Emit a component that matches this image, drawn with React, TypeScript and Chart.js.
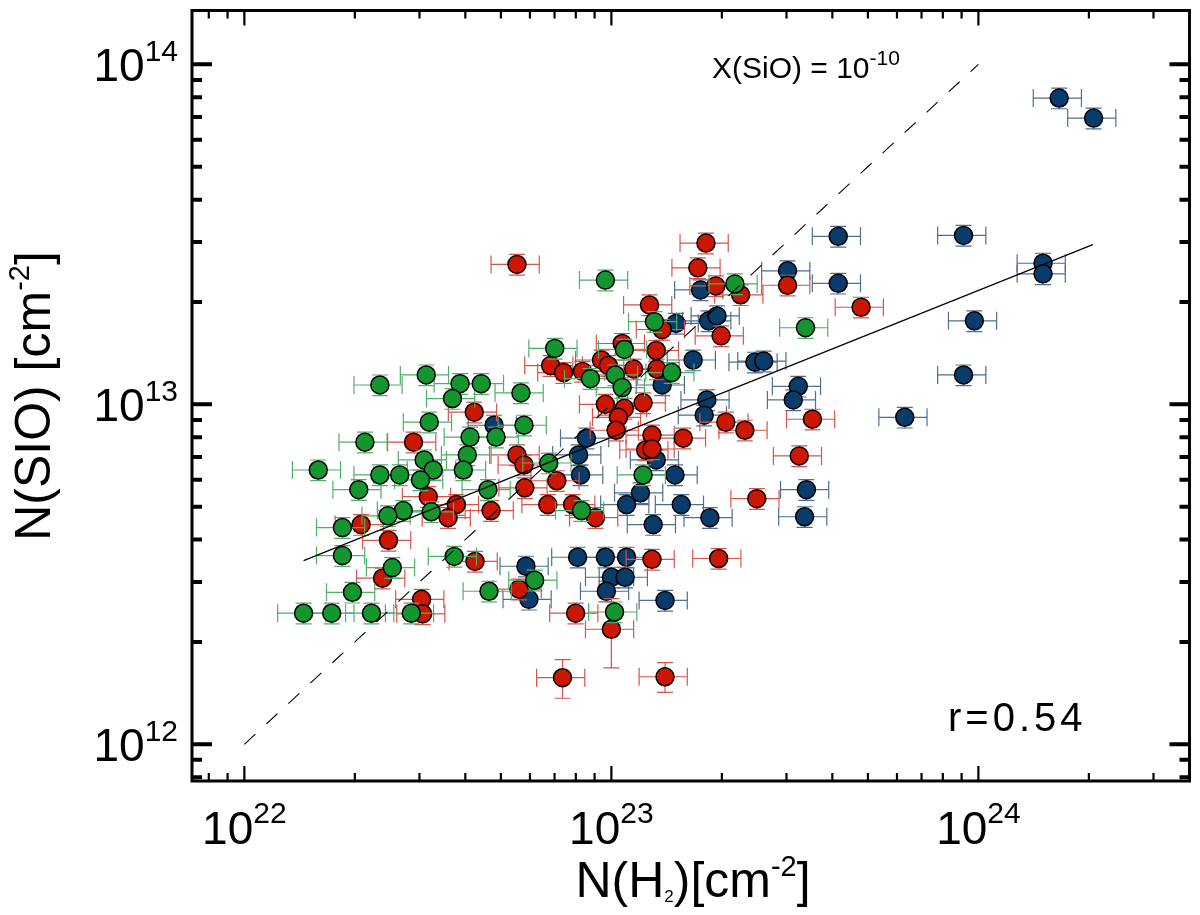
import React, { useEffect, useRef } from 'react';
import { Chart, registerables } from 'chart.js';

Chart.register(...registerables);

// [N(H2), N(SiO), optional relative y error]
type Pt = [number, number, number?];

const X_REL_ERR = 0.15;
const Y_REL_ERR = 0.07;

const greenPts: Pt[] = [
  [2.34e22, 1.14e13], [3.13e22, 1.22e13], [3.87e22, 1.15e13], [4.42e22, 1.15e13],
  [3.69e22, 1.04e13], [5.67e22, 1.08e13], [3.19e22, 8.86e12], [5.78e22, 8.68e12],
  [4.12e22, 8.01e12], [4.85e22, 8.01e12], [2.13e22, 7.74e12], [4.05e22, 7.1e12],
  [3.09e22, 6.86e12], [3.27e22, 6.41e12], [3.95e22, 6.41e12], [1.59e22, 6.41e12],
  [2.34e22, 6.2e12], [2.65e22, 6.2e12], [3.02e22, 5.99e12], [2.05e22, 5.61e12],
  [4.61e22, 5.61e12], [2.71e22, 4.87e12], [3.23e22, 4.83e12], [2.46e22, 4.7e12],
  [1.85e22, 4.34e12], [1.85e22, 3.59e12], [3.73e22, 3.57e12], [2.53e22, 3.31e12],
  [1.97e22, 2.8e12], [4.64e22, 2.82e12], [1.45e22, 2.43e12], [1.73e22, 2.43e12],
  [2.22e22, 2.43e12], [2.85e22, 2.43e12], [9.63e22, 2.32e13], [2.17e23, 2.26e13],
  [1.31e23, 1.75e13], [7.01e22, 1.46e13], [1.085e23, 1.45e13], [8.77e22, 1.19e13],
  [1.025e23, 1.22e13], [1.07e23, 1.12e13], [1.46e23, 1.24e13], [6.75e22, 6.72e12],
  [1.22e23, 6.2e12], [8.29e22, 4.87e12], [3.38e23, 1.68e13], [6.18e22, 3.04e12],
  [1.02e23, 2.45e12],
];

const redPts: Pt[] = [
  [4.23e22, 9.48e12], [2.89e22, 7.74e12], [5.53e22, 7.1e12], [5.78e22, 6.63e12],
  [5.81e22, 5.68e12], [3.17e22, 5.35e12], [3.78e22, 5.07e12], [3.59e22, 4.64e12],
  [4.7e22, 4.87e12], [2.08e22, 4.43e12], [2.47e22, 3.98e12], [4.25e22, 3.45e12],
  [2.38e22, 3.08e12], [5.6e22, 2.86e12], [3.04e22, 2.67e12], [3.06e22, 2.42e12],
  [5.53e22, 2.58e13], [1.81e23, 2.98e13], [1.72e23, 2.52e13], [1.925e23, 2.23e13],
  [2.25e23, 2.1e13], [1.27e23, 1.96e13], [1.375e23, 1.66e13], [1.99e23, 1.59e13],
  [1.07e23, 1.51e13], [1.325e23, 1.44e13], [6.83e22, 1.3e13], [7.41e22, 1.24e13],
  [8.34e22, 1.25e13], [9.4e22, 1.35e13], [9.81e22, 1.3e13], [1.15e23, 1.27e13],
  [1.33e23, 1.27e13], [9.63e22, 1.0e13], [1.085e23, 9.73e12], [1.045e23, 9.16e12],
  [1.22e23, 1.01e13], [2.05e23, 8.86e12], [1.03e23, 8.39e12], [1.29e23, 8.12e12],
  [1.57e23, 7.95e12], [1.24e23, 7.34e12], [1.29e23, 7.39e12], [7.1e22, 5.96e12],
  [6.71e22, 5.07e12], [7.84e22, 5.07e12], [9.05e22, 4.64e12], [2.31e23, 8.39e12],
  [3.02e23, 2.24e13], [4.79e23, 1.93e13], [3.53e23, 9.04e12], [3.25e23, 7.05e12],
  [2.49e23, 5.28e12], [1.96e23, 3.52e12], [1.29e23, 3.5e12], [7.99e22, 2.43e12],
  [1.0e23, 2.18e12, 0.23], [7.36e22, 1.57e12, 0.13], [1.4e23, 1.58e12, 0.1],
];

const bluePts: Pt[] = [
  [4.79e22, 8.68e12], [5.85e22, 3.34e12], [5.96e22, 2.67e12], [1.75e23, 2.17e13],
  [1.5e23, 1.73e13], [1.84e23, 1.76e13], [1.94e23, 1.82e13], [1.67e23, 1.35e13],
  [1.375e23, 1.14e13], [1.82e23, 1.03e13], [1.79e23, 9.29e12], [8.55e22, 7.95e12],
  [8.14e22, 7.1e12], [1.325e23, 6.86e12], [8.24e22, 6.2e12], [1.49e23, 6.2e12],
  [1.2e23, 5.49e12], [1.1e23, 5.07e12], [1.55e23, 5.07e12], [1.3e23, 4.43e12],
  [1.855e23, 4.64e12], [8.09e22, 3.55e12], [9.63e22, 3.55e12], [1.1e23, 3.55e12],
  [1.0e23, 3.1e12], [1.09e23, 3.1e12], [9.69e22, 2.82e12], [1.4e23, 2.65e12],
  [4.15e23, 3.12e13], [3.02e23, 2.47e13], [4.15e23, 2.27e13], [2.46e23, 1.33e13],
  [2.6e23, 1.34e13], [3.23e23, 1.13e13], [3.13e23, 1.03e13], [6.3e23, 9.16e12],
  [3.4e23, 5.61e12], [3.36e23, 4.67e12], [1.66e24, 7.96e13], [2.06e24, 6.95e13],
  [9.11e23, 3.14e13], [1.5e24, 2.6e13], [1.5e24, 2.42e13], [9.75e23, 1.76e13],
  [9.11e23, 1.22e13],
];

// fitted relation and X(SiO) = 1e-10 reference line
const fitNH2 = [1.45e22, 2.05e24];
const fitNSiO = [3.47e12, 2.95e13];
const xsioNH2 = [1e22, 1e24];
const xsioNSiO = [1e12, 1e14];

const xMajor = [22, 23, 24];
const yMajor = [12, 13, 14];

const X_MIN = 7.2e21;
const X_MAX = 3.76e24;
const Y_MIN = 7.8e11;
const Y_MAX = 1.44e14;

const FONT = '"Liberation Sans", Arial, Helvetica, sans-serif';

type Part = { t: string; size: number; rise?: number };

const drawRich = (ctx: CanvasRenderingContext2D, parts: Part[], x: number, y: number, align: 'left' | 'center' | 'right') => {
  ctx.textAlign = 'left';
  ctx.textBaseline = 'alphabetic';
  const widths = parts.map(p => {
    ctx.font = `${p.size}px ${FONT}`;
    return ctx.measureText(p.t).width;
  });
  const total = widths.reduce((a, b) => a + b, 0);
  let cx = align === 'center' ? x - total / 2 : align === 'right' ? x - total : x;
  parts.forEach((p, i) => {
    ctx.font = `${p.size}px ${FONT}`;
    ctx.fillText(p.t, cx, y - (p.rise || 0));
    cx += widths[i];
  });
};

const minorTicks = (lo: number, hi: number) => {
  const out: number[] = [];
  for (let e = Math.floor(Math.log10(lo)); e <= Math.ceil(Math.log10(hi)); e++) {
    for (let k = 2; k <= 9; k++) {
      const v = k * Math.pow(10, e);
      if (v > lo && v < hi) out.push(v);
    }
  }
  return out;
};

const errSets: Record<string, { pts: Pt[]; color: string }> = {
  green: { pts: greenPts, color: '#4fae68' },
  red: { pts: redPts, color: '#d9534a' },
  blue: { pts: bluePts, color: '#4d6e8e' },
};

const errBarPlugin = {
  id: 'errBars',
  beforeDatasetDraw(chart: any, args: any) {
    const ds = chart.data.datasets[args.index];
    const set = errSets[ds.label];
    if (!set) return;
    const { ctx, scales: { x, y } } = chart;
    ctx.save();
    ctx.beginPath();
    ctx.rect(chart.chartArea.left, chart.chartArea.top, chart.chartArea.right - chart.chartArea.left, chart.chartArea.bottom - chart.chartArea.top);
    ctx.clip();
    ctx.strokeStyle = set.color;
    ctx.lineWidth = 1.2;
    set.pts.forEach(([nx, ny, ey]) => {
      const px = x.getPixelForValue(nx);
      const py = y.getPixelForValue(ny);
      const x0 = x.getPixelForValue(nx * (1 - X_REL_ERR));
      const x1 = x.getPixelForValue(nx * (1 + X_REL_ERR));
      const r = ey ?? Y_REL_ERR;
      const y0 = y.getPixelForValue(ny * (1 + r));
      const y1 = y.getPixelForValue(ny * (1 - r));
      ctx.beginPath();
      ctx.moveTo(x0, py); ctx.lineTo(x1, py);
      ctx.moveTo(x0, py - 9); ctx.lineTo(x0, py + 9);
      ctx.moveTo(x1, py - 9); ctx.lineTo(x1, py + 9);
      ctx.moveTo(px, y0); ctx.lineTo(px, y1);
      ctx.moveTo(px - 8, y0); ctx.lineTo(px + 8, y0);
      ctx.moveTo(px - 8, y1); ctx.lineTo(px + 8, y1);
      ctx.stroke();
    });
    ctx.restore();
  },
};

const framePlugin = {
  id: 'frame',
  afterDraw(chart: any) {
    const { ctx, chartArea: a, scales: { x, y } } = chart;
    ctx.save();
    ctx.strokeStyle = '#000';
    ctx.fillStyle = '#000';
    ctx.lineWidth = 3;
    ctx.strokeRect(a.left, a.top, a.right - a.left, a.bottom - a.top);

    // y ticks (left and right), thick
    ctx.lineWidth = 4;
    const yTick = (v: number, len: number) => {
      const py = y.getPixelForValue(v);
      ctx.beginPath();
      ctx.moveTo(a.left, py); ctx.lineTo(a.left + len, py);
      ctx.moveTo(a.right, py); ctx.lineTo(a.right - len, py);
      ctx.stroke();
    };
    yMajor.forEach(e => yTick(Math.pow(10, e), 20));
    minorTicks(Y_MIN, Y_MAX).forEach(v => yTick(v, 10));

    // x ticks (bottom and top), thin
    ctx.lineWidth = 2.2;
    const xTick = (v: number, len: number) => {
      const px = x.getPixelForValue(v);
      ctx.beginPath();
      ctx.moveTo(px, a.bottom); ctx.lineTo(px, a.bottom - len);
      ctx.moveTo(px, a.top); ctx.lineTo(px, a.top + len);
      ctx.stroke();
    };
    xMajor.forEach(e => xTick(Math.pow(10, e), 15));
    minorTicks(X_MIN, X_MAX).forEach(v => xTick(v, 8));

    // tick labels
    yMajor.forEach(e => {
      const py = y.getPixelForValue(Math.pow(10, e));
      drawRich(ctx, [{ t: '10', size: 46 }, { t: String(e), size: 30, rise: 20 }], a.left - 14, py + 16.5, 'right');
    });
    xMajor.forEach(e => {
      const px = x.getPixelForValue(Math.pow(10, e));
      drawRich(ctx, [{ t: '10', size: 46 }, { t: String(e), size: 30, rise: 21 }], px, 844, 'center');
    });

    // axis titles
    drawRich(ctx, [
      { t: 'N(H', size: 50 },
      { t: '2', size: 17, rise: -5 },
      { t: ')[cm', size: 50 },
      { t: '-2', size: 29, rise: 21 },
      { t: ']', size: 50 },
    ], 693, 897, 'center');

    ctx.save();
    ctx.translate(50, 396);
    ctx.rotate(-Math.PI / 2);
    drawRich(ctx, [
      { t: 'N(SIO) [cm', size: 50 },
      { t: '-2', size: 29, rise: 21 },
      { t: ']', size: 50 },
    ], 0, 0, 'center');
    ctx.restore();

    // annotations
    drawRich(ctx, [{ t: 'X(SiO) = 10', size: 30 }, { t: '-10', size: 21, rise: 13 }], 712, 78, 'left');
    (ctx as any).letterSpacing = '4px';
    drawRich(ctx, [{ t: 'r=0.54', size: 40 }], 948, 731, 'left');
    (ctx as any).letterSpacing = '0px';
    ctx.restore();
  },
};

const toXY = (pts: Pt[]) => pts.map(([nx, ny]) => ({ x: nx, y: ny }));

const App: React.FC = () => {
  const canvasRef = useRef<HTMLCanvasElement>(null);
  const chartRef = useRef<Chart | null>(null);

  useEffect(() => {
    if (!canvasRef.current) return;
    if (chartRef.current) chartRef.current.destroy();

    const scatter = (label: string, pts: Pt[], fill: string) => ({
      type: 'scatter' as const,
      label,
      data: toXY(pts),
      backgroundColor: fill,
      borderColor: '#000',
      pointRadius: 9,
      pointBorderWidth: 1.5,
      pointHoverRadius: 9,
      showLine: false,
    });

    chartRef.current = new Chart(canvasRef.current, {
      type: 'scatter',
      data: {
        datasets: [
          {
            type: 'line',
            label: 'xsio',
            data: xsioNH2.map((v, i) => ({ x: v, y: xsioNSiO[i] })),
            borderColor: '#000',
            borderWidth: 1.1,
            borderDash: [15, 15],
            pointRadius: 0,
            fill: false,
          },
          {
            type: 'line',
            label: 'fit',
            data: fitNH2.map((v, i) => ({ x: v, y: fitNSiO[i] })),
            borderColor: '#000',
            borderWidth: 1.2,
            pointRadius: 0,
            fill: false,
          },
          scatter('green', greenPts, '#14962f'),
          scatter('red', redPts, '#cc1600'),
          scatter('blue', bluePts, '#0a3c6b'),
        ] as any,
      },
      options: {
        responsive: false,
        animation: false,
        layout: { padding: { left: 192, right: 6, top: 6, bottom: 134 } },
        scales: {
          x: { type: 'logarithmic', min: X_MIN, max: X_MAX, display: false },
          y: { type: 'logarithmic', min: Y_MIN, max: Y_MAX, display: false },
        },
        plugins: {
          legend: { display: false },
          tooltip: { enabled: false },
        },
        events: [],
      },
      plugins: [errBarPlugin, framePlugin],
    });

    return () => {
      if (chartRef.current) {
        chartRef.current.destroy();
        chartRef.current = null;
      }
    };
  }, []);

  return (
    <div style={{ position: 'absolute', left: 0, top: 0, width: 1200, height: 915, background: '#fff' }}>
      <canvas ref={canvasRef} width={1200} height={915} style={{ width: 1200, height: 915 }}></canvas>
    </div>
  );
};

export default App;
